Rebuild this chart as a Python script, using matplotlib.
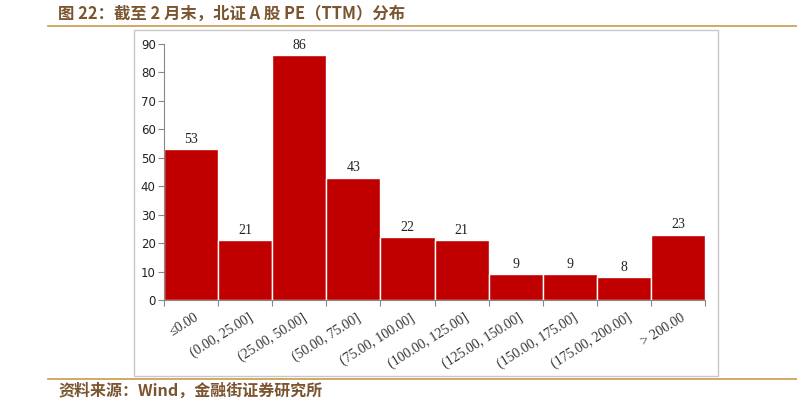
import numpy as np
from matplotlib import pyplot as plt
from matplotlib.patches import Rectangle
from matplotlib.lines import Line2D

plt.rcParams["font.family"] = ["Noto Sans CJK SC", "DejaVu Sans"]

categories = ["≤0.00", "(0.00, 25.00]", "(25.00, 50.00]", "(50.00, 75.00]",
              "(75.00, 100.00]", "(100.00, 125.00]", "(125.00, 150.00]",
              "(150.00, 175.00]", "(175.00, 200.00]", "> 200.00"]
counts = [53, 21, 86, 43, 22, 21, 9, 9, 8, 23]
yticks = [0, 10, 20, 30, 40, 50, 60, 70, 80, 90]

title = "图 22：截至 2 月末，北证 A 股 PE（TTM）分布"
source = "资料来源：Wind，金融街证券研究所"

bar_color = "#C00000"
brown = "#7A5530"
gold = "#C9994F"

fig = plt.figure(figsize=(7.97, 3.99), dpi=100)

# outer frame of the chart
fig.add_artist(Rectangle((134 / 797, 1 - 376 / 399), (718 - 134) / 797, (376 - 30) / 399,
                         transform=fig.transFigure, fill=False, edgecolor="#C8C8C8", lw=1))
# header / footer rules
fig.add_artist(Line2D([48 / 797, 1], [1 - 26 / 399] * 2, transform=fig.transFigure, color=gold, lw=1.2))
fig.add_artist(Line2D([48 / 797, 1], [1 - 379 / 399] * 2, transform=fig.transFigure, color=gold, lw=1.2))
fig.text(58 / 797, 1 - 14 / 399, title, fontsize=11.8, fontweight="bold", color=brown, va="center")
fig.text(58 / 797, 1 - 391 / 399, source, fontsize=11.5, fontweight="bold", color=brown, va="center")

ax = fig.add_axes([164 / 797, 1 - 300 / 399, (705 - 164) / 797, (300 - 44) / 399])
x = np.arange(len(counts))
bars = ax.bar(x, counts, width=1.0, color=bar_color, edgecolor="white", linewidth=1)
for xi, c in zip(x, counts):
    ax.text(xi, c + 1.3, str(c), ha="center", va="bottom", fontsize=10,
            family="Liberation Serif", color="#222222")

ax.set_xlim(-0.5, len(counts) - 0.5)
ax.set_ylim(0, 90)
ax.set_yticks(yticks)
ax.set_yticklabels([str(t) for t in yticks], fontsize=8.5, family="DejaVu Sans", color="#222222")
ax.set_xticks(np.arange(len(counts) + 1) - 0.5)
ax.set_xticklabels([])
ax.set_xticks(x + 0.05, minor=True)
ax.set_xticklabels(categories, minor=True, rotation=32, ha="right", rotation_mode="anchor",
                   fontsize=10, family="Liberation Serif", color="#333333")
ax.tick_params(axis="x", which="minor", length=0, pad=8)
ax.tick_params(axis="x", which="major", length=4, color="#888888", direction="out")
ax.tick_params(axis="y", length=4, color="#888888", direction="out", pad=2)
for side in ["top", "right"]:
    ax.spines[side].set_visible(False)
for side in ["left", "bottom"]:
    ax.spines[side].set_color("#888888")

fig.savefig("out.png", dpi=100)
